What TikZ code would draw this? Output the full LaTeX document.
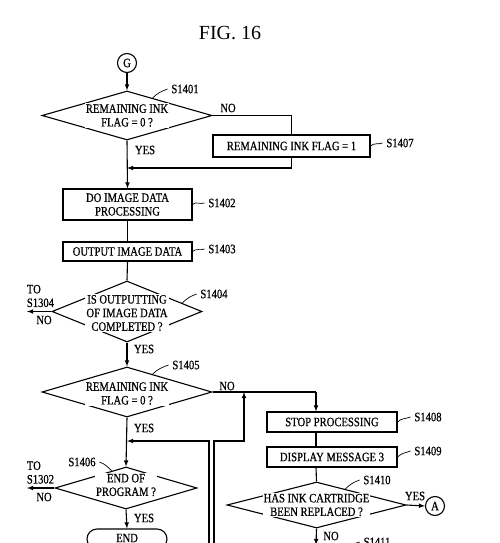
\documentclass[tikz,border=0pt]{standalone}
\usepackage{fontspec}
\setmainfont{Liberation Serif}[FakeStretch=0.83,FakeBold=0.6]
\newfontfamily\figfont{Liberation Serif}
\usetikzlibrary{arrows}
\usetikzlibrary{shapes.geometric}
\usetikzlibrary{calc}

\begin{document}
\begin{tikzpicture}[x=1pt,y=-1pt,>=latex,line width=1.1pt,
  font=\fontsize{12.8}{13.6}\selectfont,
  dec/.style={draw,diamond,inner sep=0pt},
  proc/.style={draw,rectangle,inner sep=0pt},
  txt/.style={fill=white,inner sep=1pt,align=center},
  lead/.style={line width=0.7pt}]
\useasboundingbox (0,0) rectangle (500,543);
\clip (0,0) rectangle (500,543);
\node (title) at (230,33) {\figfont\fontsize{20}{24}\selectfont FIG. 16};
% shapes of the flow
\node[draw,circle,minimum size=19pt,inner sep=0pt] (g) at (127,63) {G};
\node[dec,minimum width=170pt,minimum height=49pt] (d1401) at (127,115.5) {};
\node[proc,minimum width=157pt,minimum height=22pt] (b1407) at (291.5,146) {};
\node[proc,minimum width=129pt,minimum height=31pt] (b1402) at (127.5,204.5) {};
\node[proc,minimum width=129pt,minimum height=19pt] (b1403) at (127.5,251.5) {};
\node[dec,minimum width=150pt,minimum height=61pt] (d1404) at (127,311.5) {};
\node[dec,minimum width=170pt,minimum height=50pt] (d1405) at (127,392) {};
\node[dec,minimum width=142pt,minimum height=42pt] (d1406) at (126,488) {};
\node[draw,rounded corners=10pt,minimum width=80pt,minimum height=20pt,inner sep=0pt] (end) at (127,539) {};
\node[proc,minimum width=130pt,minimum height=20pt] (b1408) at (332,422) {};
\node[proc,minimum width=130pt,minimum height=20pt] (b1409) at (332,457) {};
\node[dec,minimum width=179pt,minimum height=46pt] (d1410) at (316.5,505) {};
\node[draw,circle,minimum size=19pt,inner sep=0pt] (a) at (435,506) {A};
% texts
\node[txt] (t1401) at (d1401) {REMAINING INK\\FLAG = 0 ?};
\node[txt] (t1407) at (b1407) {REMAINING INK FLAG = 1};
\node[txt] (t1402) at (b1402) {DO IMAGE DATA\\PROCESSING};
\node[txt] (t1403) at (b1403) {OUTPUT IMAGE DATA};
\node[txt] (t1404) at ($(d1404)+(0,1.5)$) {IS OUTPUTTING\\OF IMAGE DATA\\COMPLETED ?};
\node[txt] (t1405) at ($(d1405)+(0,1.5)$) {REMAINING INK\\FLAG = 0 ?};
\node[txt] (t1406) at ($(d1406)+(0,-3)$) {END OF\\PROGRAM ?};
\node[txt] (tend) at ($(end)+(0,-1)$) {END};
\node[txt] (t1408) at (b1408) {STOP PROCESSING};
\node[txt] (t1409) at (b1409) {DISPLAY MESSAGE 3};
\node[txt] (t1410) at (d1410) {HAS INK CARTRIDGE\\BEEN REPLACED ?};
% step labels
\node (s1401) at (185,89) {S1401};
\node (s1407) at (400,143) {S1407};
\node (s1402) at (222,203) {S1402};
\node (s1403) at (222,249) {S1403};
\node (s1404) at (214,294) {S1404};
\node (s1405) at (186,365) {S1405};
\node (s1406) at (82,462) {S1406};
\node (s1408) at (428,417) {S1408};
\node (s1409) at (428,451) {S1409};
\node (s1410) at (377,480) {S1410};
\node (s1411) at (377,542) {S1411};
\draw[lead] ($(d1401.north)!0.3!(d1401.east)$) to[out=45,in=200] (s1401.west);
\draw[lead] (b1407.east) to[out=45,in=200] (s1407.west);
\draw[lead] (b1402.east) to[out=45,in=200] (s1402.west);
\draw[lead] (b1403.east) to[out=45,in=200] (s1403.west);
\draw[lead] ($(d1404.north)!0.73!(d1404.east)$) to[out=45,in=200] (s1404.west);
\draw[lead] ($(d1405.north)!0.3!(d1405.east)$) to[out=45,in=200] (s1405.west);
\draw[lead] ($(d1406.north)!0.2!(d1406.west)$) to[out=135,in=-20] (s1406.east);
\draw[lead] (b1408.east) to[out=45,in=200] (s1408.west);
\draw[lead] (b1409.east) to[out=45,in=200] (s1409.west);
\draw[lead] ($(d1410.north)!0.32!(d1410.east)$) to[out=45,in=200] (s1410.west);
\coordinate (b1411) at (348,547);
\draw[lead] (b1411) to[out=45,in=200] (s1411.west);
% yes / no
\node (no1401) at (228,108) {NO};
\node (yes1401) at (145,150) {YES};
\node (yes1404) at (144,349) {YES};
\node (no1404) at (44,320) {NO};
\node[align=left,anchor=west] (to1304) at (23,296) {TO\\S1304};
\node (no1405) at (227,386) {NO};
\node (yes1405) at (144,428) {YES};
\node (no1406) at (44,497) {NO};
\node[align=left,anchor=west] (to1302) at (23,472.5) {TO\\S1302};
\node (yes1406) at (144,518) {YES};
\node (yes1410) at (415,496) {YES};
\node (no1410) at (331,536) {NO};
% connectors
\coordinate (j1) at (127,168);
\coordinate (j2) at (127,441);
\coordinate (j3) at (244,441);
\coordinate (x1304) at (27,311.5);
\coordinate (x1302) at (27,488);
\coordinate (r1) at (209,560);
\coordinate (r2) at (214,560);
\coordinate (r3) at (316,392);
\coordinate (x1411) at (316,545);
\draw[->] (g) -- (d1401.north);
\draw (d1401.east) -| (b1407.north);
\draw[->] (b1407.south) |- (j1);
\draw[->] (d1401.south) -- (b1402.north);
\draw (b1402.south) -- (b1403.north);
\draw (b1403.south) -- (d1404.north);
\draw[->] (d1404.west) -- (x1304);
\draw[->] (d1404.south) -- (d1405.north);
\draw (d1405.east) -- (r3);
\draw[->] (r3) -- (r3 |- b1408.north);
\draw[->] (r1) |- (j2);
\draw[->] (r2) |- (j3) -- (j3 |- d1405.east);
\draw[->] (d1405.south) -- (d1406.north);
\draw[->] (d1406.west) -- (x1302);
\draw[->] (d1406.south) -- (end.north);
\draw (r3 |- b1408.south) -- (r3 |- b1409.north);
\draw (r3 |- b1409.south) -- (d1410.north);
\draw[->] (d1410.east) -- (a.west);
\draw[->] (d1410.south) -- (x1411);
\end{tikzpicture}
\end{document}
